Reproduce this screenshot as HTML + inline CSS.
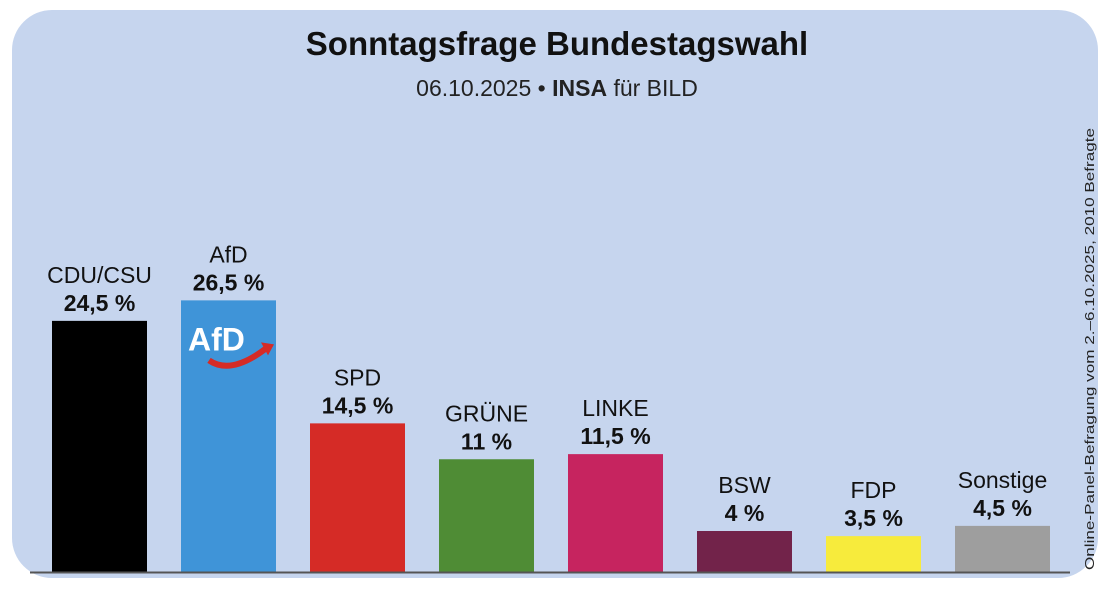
<!DOCTYPE html>
<html><head><meta charset="utf-8"><style>
body{margin:0;background:#fff;width:1106px;height:589px;overflow:hidden;font-family:"Liberation Sans",sans-serif}
#panel{position:absolute;left:12px;top:10px;width:1086px;height:568px;background:#c6d5ee;border-radius:40px}
</style></head><body>
<div id="panel"></div>
<svg width="1106" height="589" style="position:absolute;left:0;top:0">
<text x="557" y="55" text-anchor="middle" font-size="33" font-weight="bold" fill="#111">Sonntagsfrage Bundestagswahl</text>
<text x="557" y="96" text-anchor="middle" font-size="23" fill="#222">06.10.2025 • <tspan font-weight="bold">INSA</tspan> für BILD</text>
<text transform="translate(1094,570) rotate(-90)" font-size="13" textLength="442" lengthAdjust="spacingAndGlyphs" fill="#222">Online-Panel-Befragung vom 2.–6.10.2025, 2010 Befragte</text>
<g id="bars"></g>
<line x1="30" y1="572.5" x2="1070" y2="572.5" stroke="#555" stroke-width="2"/>
</svg>
<script>
const parties=["CDU/CSU","AfD","SPD","GRÜNE","LINKE","BSW","FDP","Sonstige"];
const values=[24.5,26.5,14.5,11,11.5,4,3.5,4.5];
const colors=["#000000","#3f94d8","#d52b26","#4f8c35","#c6245f","#72234a","#f7eb3c","#9e9e9e"];
const base=572,scale=10.25,x0=52,step=129,w=95;
const y=v=>base-v*scale;
const g=document.getElementById('bars');
const ns="http://www.w3.org/2000/svg";
parties.forEach((p,i)=>{
 const x=x0+i*step, top=y(values[i]);
 const r=document.createElementNS(ns,'rect');
 r.setAttribute('x',x);r.setAttribute('y',top);r.setAttribute('width',w);r.setAttribute('height',base-top);r.setAttribute('fill',colors[i]);
 
 
 g.appendChild(r);
 const t1=document.createElementNS(ns,'text');
 t1.setAttribute('x',x+w/2);t1.setAttribute('y',top-38);t1.setAttribute('text-anchor','middle');t1.setAttribute('font-size','23');t1.setAttribute('fill','#111');
 t1.textContent=p;
 
 
 g.appendChild(t1);
 const t2=document.createElementNS(ns,'text');
 t2.setAttribute('x',x+w/2);t2.setAttribute('y',top-10);t2.setAttribute('text-anchor','middle');t2.setAttribute('font-size','23');t2.setAttribute('font-weight','bold');t2.setAttribute('fill','#111');
 t2.textContent=String(values[i]).replace('.',',')+' %';
 
 
 g.appendChild(t2);
 if(p==="AfD"){
  const lg=document.createElementNS(ns,'g');
  
  
  lg.innerHTML='<text x="'+(x+7)+'" y="'+(top+50)+'" font-size="32" font-weight="bold" fill="#fff">AfD</text><path d="M'+(x+28)+' '+(top+60)+' Q'+(x+50)+' '+(top+75)+' '+(x+85)+' '+(top+48)+'" stroke="#d52b26" stroke-width="6" fill="none"/><path d="M'+(x+80)+' '+(top+42)+' L'+(x+93)+' '+(top+44)+' L'+(x+87)+' '+(top+55)+'Z" fill="#d52b26"/>';
  g.appendChild(lg);
 }
});
</script>
</body></html>
